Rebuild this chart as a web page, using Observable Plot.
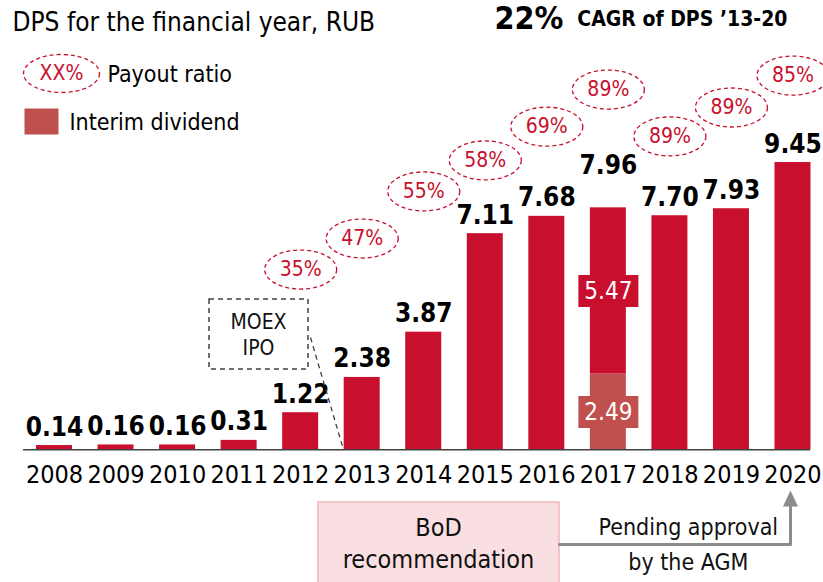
<!DOCTYPE html>
<html><head><meta charset="utf-8">
<script src="https://cdn.jsdelivr.net/npm/d3@7"></script>
<script src="https://cdn.jsdelivr.net/npm/@observablehq/plot@0.6"></script>
<style>html,body{margin:0;padding:0;background:#fff;overflow:hidden}</style>
</head><body><div id="chart"></div>
<script>
// ---- data ----
const years = [2008, 2009, 2010, 2011, 2012, 2013, 2014, 2015, 2016, 2017, 2018, 2019, 2020];
const dps = [0.14, 0.16, 0.16, 0.31, 1.22, 2.38, 3.87, 7.11, 7.68, 7.96, 7.70, 7.93, 9.45];
const payoutYears = [2012, 2013, 2014, 2015, 2016, 2017, 2018, 2019, 2020];
const payoutRatio = [35, 47, 55, 58, 69, 89, 89, 89, 85];
// vertical level (in RUB units) at which each payout bubble is placed
const payoutLevel = [5.93, 6.95, 8.50, 9.52, 10.63, 11.85, 10.31, 11.26, 12.31];
const interimYear = 2017;
const interimDps = 2.49;

// ---- derived tables ----
const parts = years.flatMap((yr, i) => yr === interimYear
  ? [{year: yr, part: "Interim", y1: 0, y2: interimDps, value: interimDps},
     {year: yr, part: "Final", y1: interimDps, y2: dps[i], value: +(dps[i] - interimDps).toFixed(2)}]
  : [{year: yr, part: "Final", y1: 0, y2: dps[i], value: dps[i]}]);
const segLabels = parts.filter(d => d.year === interimYear).map(d => ({...d, mid: (d.y1 + d.y2) / 2}));
const totals = years.map((yr, i) => ({year: yr, value: dps[i]}));
const payout = payoutYears.map((yr, i) => ({year: yr, ratio: payoutRatio[i], level: payoutLevel[i]}));

const RED = "#C8102E", PINK = "#C0504D", GRAY = "#8C8C8C", DARK = "#404040";
const FONT = "DejaVu Sans Condensed, DejaVu Sans, sans-serif";
const hw = 0.2925;

const ellipse = (rx, ry) => ({draw(ctx) {
  const k = 0.5523;
  ctx.moveTo(rx, 0);
  ctx.bezierCurveTo(rx, ry * k, rx * k, ry, 0, ry);
  ctx.bezierCurveTo(-rx * k, ry, -rx, ry * k, -rx, 0);
  ctx.bezierCurveTo(-rx, -ry * k, -rx * k, -ry, 0, -ry);
  ctx.bezierCurveTo(rx * k, -ry, rx, -ry * k, rx, 0);
  ctx.closePath();
}});
const box = (w, h) => ({draw(ctx) {
  ctx.moveTo(-w / 2, -h / 2); ctx.lineTo(w / 2, -h / 2); ctx.lineTo(w / 2, h / 2); ctx.lineTo(-w / 2, h / 2); ctx.closePath();
}});
const tri = (w, h) => ({draw(ctx) {
  ctx.moveTo(0, -h / 2); ctx.lineTo(w / 2, h / 2); ctx.lineTo(-w / 2, h / 2); ctx.closePath();
}});

const fmt2 = d3.format(".2f");

const chart = Plot.plot({
  width: 823, height: 582,
  marginTop: 0, marginRight: 0, marginBottom: 0, marginLeft: 0,
  style: {fontFamily: FONT, background: "#fff", overflow: "hidden"},
  x: {type: "linear", domain: [2007.1225, 2020.496], axis: null},
  y: {domain: [-4.365, 14.78], axis: null},
  color: {domain: ["Final", "Interim"], range: [RED, PINK]},
  marks: [
    // bars
    Plot.rect(parts, {x1: d => d.year - hw, x2: d => d.year + hw, y1: "y1", y2: "y2", fill: "part"}),
    // baseline
    Plot.ruleY([0], {x1: 2007.496, x2: 2020.285, stroke: DARK, strokeWidth: 1.6}),
    // segment labels for the interim year
    Plot.dot(segLabels, {x: "year", y: "mid", symbol: box(60, 32), fill: "part", stroke: "none"}),
    Plot.text(segLabels, {x: "year", y: "mid", text: d => fmt2(d.value), fill: "white", fontSize: 24, lineAnchor: "middle"}),
    // total labels
    Plot.text(totals.filter(d => d.year !== interimYear), {x: "year", y: "value", text: d => fmt2(d.value), fontSize: 26, fontWeight: "bold", fill: "#000", lineAnchor: "bottom", dy: -10}),
    Plot.text(totals.filter(d => d.year === interimYear), {x: "year", y: "value", text: d => fmt2(d.value), fontSize: 26, fontWeight: "bold", fill: "#000", lineAnchor: "bottom", dy: -34}),
    // year labels
    Plot.text(years, {x: d => d, y: 0, text: d => String(d), fontSize: 25, fill: "#000", lineAnchor: "middle", dy: 25}),
    // payout bubbles
    Plot.dot(payout, {x: "year", y: "level", symbol: ellipse(36, 19.5), fill: "none", stroke: RED, strokeWidth: 1.3, strokeDasharray: "4,3"}),
    Plot.text(payout, {x: "year", y: "level", text: d => d.ratio + "%", fill: RED, fontSize: 21, lineAnchor: "middle"}),
    // MOEX IPO annotation
    Plot.rect([0], {x1: 2010.519, x2: 2012.127, y1: 2.641, y2: 4.944, fill: "none", stroke: DARK, strokeWidth: 1.5, strokeDasharray: "5,4"}),
    Plot.text(["MOEX", "IPO"], {x: 2011.315, y: (d, i) => [4.19, 3.33][i], text: d => d, fontSize: 21, fill: "#111", lineAnchor: "middle"}),
    Plot.link([0], {x1: 2012.16, y1: 3.694, x2: 2012.696, y2: 0, stroke: DARK, strokeWidth: 1.3, strokeDasharray: "5,4"}),
    // BoD recommendation box
    Plot.rect([0], {x1: 2012.29, x2: 2016.206, y1: -4.6, y2: -1.734, fill: "#F9DFE1", stroke: "#F2B5BA", strokeWidth: 1.5}),
    Plot.text(["BoD", "recommendation"], {x: 2014.24, y: (d, i) => [-2.556, -3.64][i], text: d => d, fontSize: 25, fill: "#111", lineAnchor: "middle"}),
    // pending approval connector
    Plot.line([[2016.206, -3.115], [2019.96, -3.115], [2019.96, -1.86]], {x: d => d[0], y: d => d[1], stroke: GRAY, strokeWidth: 3}),
    Plot.dot([0], {x: 2019.96, y: -1.602, symbol: tri(15, 16), fill: GRAY, stroke: "none"}),
    Plot.text(["Pending approval", "by the AGM"], {x: 2018.30, y: (d, i) => [-2.556, -3.71][i], text: d => d, fontSize: 23, fill: "#111", lineAnchor: "middle"}),
    // header & legend
    Plot.text(["DPS for the financial year, RUB"], {frameAnchor: "top-left", dx: 12, dy: 12, text: d => d, fontSize: 26, fill: "#000", textAnchor: "start", lineAnchor: "top"}),
    Plot.text(["22%"], {frameAnchor: "top-left", dx: 494, dy: 6, text: d => d, fontSize: 32, fontWeight: "bold", fill: "#000", textAnchor: "start", lineAnchor: "top"}),
    Plot.text(["CAGR of DPS \u201913-20"], {frameAnchor: "top-left", dx: 787, dy: 11, text: d => d, fontSize: 21, fontWeight: "bold", fill: "#000", textAnchor: "end", lineAnchor: "top"}),
    Plot.dot([0], {frameAnchor: "top-left", dx: 61, dy: 73, symbol: ellipse(38, 19), fill: "none", stroke: RED, strokeWidth: 1.3, strokeDasharray: "4,3"}),
    Plot.text(["XX%"], {frameAnchor: "top-left", dx: 61, dy: 73, text: d => d, fill: RED, fontSize: 21, textAnchor: "middle", lineAnchor: "middle"}),
    Plot.text(["Payout ratio"], {frameAnchor: "top-left", dx: 107, dy: 74, text: d => d, fill: "#000", fontSize: 23, textAnchor: "start", lineAnchor: "middle"}),
    Plot.dot([0], {frameAnchor: "top-left", dx: 41, dy: 121, symbol: box(34, 26), fill: PINK, stroke: "none"}),
    Plot.text(["Interim dividend"], {frameAnchor: "top-left", dx: 69, dy: 122, text: d => d, fill: "#000", fontSize: 23, textAnchor: "start", lineAnchor: "middle"})
  ]
});
document.getElementById("chart").append(chart);
</script></body></html>
